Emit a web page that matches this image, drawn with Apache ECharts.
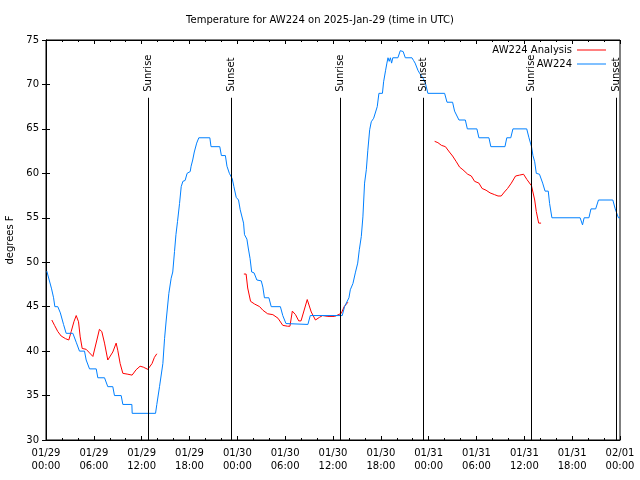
<!DOCTYPE html>
<html>
<head>
<meta charset="utf-8">
<script src="https://cdn.jsdelivr.net/npm/echarts@6/dist/echarts.min.js"></script>
<style>html,body{margin:0;padding:0;background:#fff}#c{width:640px;height:480px}</style>
</head>
<body>
<div id="c"></div>
<script>
// hours since 2025-01-29 00:00 UTC, temperature in degrees F
const analysisData = [
  [0.73,43.5],[1.07,42.9],[1.48,42.2],[1.9,41.7],[2.45,41.4],[2.86,41.25],[3.16,42.2],[3.5,43.3],[3.79,44],[4.08,43.3],
  [4.29,41.6],[4.54,40.3],[5.04,40.2],[5.46,39.8],[5.88,39.4],[6.0,39.6],[6.38,41.25],[6.7,42.45],[7.0,42.2],[7.34,40.9],
  [7.75,39],[8.0,39],[8.38,39.9],[8.8,40.9],[9.0,40.1],[9.3,38.6],[9.64,37.5],[10.27,37.4],[10.8,37.3],[11.3,37.9],
  [11.8,38.3],[12.2,38.2],[12.77,37.95],[13.3,38.6],[13.6,39.3],[13.9,39.7],
  [19,'-'],
  [24.82,48.67],[25.1,48.67],[25.3,47.1],[25.66,45.6],[26.16,45.3],[26.8,45],[27.2,44.6],[27.8,44.2],[28.46,44.1],
  [29.1,43.7],[29.7,42.9],[30.3,42.8],[30.6,42.8],[30.9,44.5],[31.3,44.1],[31.7,43.4],[31.99,43.4],[32.77,45.8],
  [33.27,44.4],[33.8,43.5],[34.3,43.8],[34.7,44],[35.36,43.9],[36.2,43.9],[37.04,44.25],[37.4,45],[37.87,45.5],
  [43,'-'],
  [48.75,63.6],[49.16,63.45],[49.6,63.15],[50.1,63],[50.6,62.4],[51.0,61.95],[51.47,61.3],[51.88,60.7],[52.3,60.4],
  [52.9,59.9],[53.35,59.7],[53.76,59.1],[54.3,58.9],[54.7,58.3],[55.2,58.1],[55.7,57.8],[56.27,57.6],[56.7,57.45],
  [57.1,57.45],[57.5,57.9],[57.9,58.3],[58.37,58.9],[58.9,59.7],[59.4,59.8],[59.9,59.9],[60.33,59.3],[60.9,58.6],
  [61.1,58.4],[61.3,57],[61.5,55.7],[61.8,54.4],[62.1,54.4]
];
const stationData = [
  [0.1,49],[0.4,48],[0.7,47],[0.95,46],[1.11,45],[1.48,45],[1.8,44.3],[2.2,43],[2.53,42],[3.37,42],[3.79,41],[4.2,40],
  [4.83,40],[5.04,39],[5.46,38],[6.3,38],[6.5,37],[7.34,37],[7.75,36],[8.38,36],[8.59,35],[9.43,35],[9.64,34],[10.77,34],
  [10.81,33],[13.74,33],[13.9,34],[14.24,36],[14.66,38.6],[14.87,41.4],[15.08,43.5],[15.41,46.5],[15.7,48.2],[15.9,48.9],
  [16.12,51.2],[16.3,53.1],[16.5,54.6],[16.75,56.6],[16.96,58.5],[17.17,59.1],[17.45,59.2],[17.7,60],[18.09,60.2],
  [18.2,60.8],[18.4,61.5],[18.6,62.4],[18.9,63.4],[19.17,64],[20.55,64],[20.7,63],[21.8,63],[22.0,62],[22.5,62],
  [22.7,60.8],[23.0,60],[23.36,59.4],[23.57,58.5],[23.86,57.3],[24.15,57],[24.36,55.9],[24.78,54.4],[24.9,53.1],
  [25.2,52.6],[25.37,51.6],[25.6,50.4],[25.8,48.9],[26.1,48.8],[26.45,48],[27.0,47.9],[27.2,47.2],[27.4,46],[27.96,46],
  [28.25,45],[29.4,45],[29.7,44],[30.1,43.1],[30.3,43],[32.85,43],[33.15,44],[37.16,44],[37.45,45],[38.0,46],
  [38.17,46.9],[38.5,47.6],[38.8,48.8],[39.1,49.9],[39.3,51.4],[39.55,52.9],[39.75,55.1],[39.96,58.9],[40.18,60.4],
  [40.37,62.6],[40.6,64.9],[40.8,65.8],[41.1,66.2],[41.3,66.3],[41.55,67.5],[41.76,69],[42.2,69],[42.35,70.3],
  [42.6,71.6],[42.76,72.4],[42.9,73],[43.05,72.6],[43.2,73],[43.35,72.4],[43.5,73],[44.14,73],[44.44,73.8],[44.6,74],
  [44.8,73.7],[45.07,73],[45.9,73],[46.1,72.7],[46.3,72.4],[46.65,71.6],[46.9,71.2],[47.3,70.7],[47.6,70.1],[47.9,69],
  [50.0,69],[50.3,68],[51.0,68],[51.25,67],[51.5,67],[51.8,66],[52.6,66],[52.85,65],[54.05,65],[54.3,64],[55.56,64],
  [55.8,63],[57.57,63],[57.8,64],[58.3,64],[58.57,65],[60.3,65],[60.58,64],[60.9,63],[61.08,62],[61.3,61.3],[61.5,60],
  [61.9,59.9],[62.3,58.9],[62.6,58],[63.0,58],[63.17,56.6],[63.46,55],[67.0,55],[67.3,54.2],[67.5,55],[68.1,55],
  [68.36,56],[68.95,56],[69.3,57],[71.1,57],[71.4,56],[71.8,55],[72,55]
];
const sunEventHours = [12.75, 23.2, 36.9, 47.3, 60.8, 71.5];
const sunEventLabels = ['Sunrise', 'Sunset', 'Sunrise', 'Sunset', 'Sunrise', 'Sunset'];
const xTickLabels = ['01/29\n00:00','01/29\n06:00','01/29\n12:00','01/29\n18:00','01/30\n00:00','01/30\n06:00',
  '01/30\n12:00','01/30\n18:00','01/31\n00:00','01/31\n06:00','01/31\n12:00','01/31\n18:00','02/01\n00:00'];
const seriesNames = ['AW224 Analysis', 'AW224'];
const titleText = 'Temperature for AW224 on 2025-Jan-29 (time in UTC)';
const yName = 'degrees F';

const FONT = 'DejaVu Sans';
const chart = echarts.init(document.getElementById('c'), null, {renderer: 'canvas'});
const xBase = {
  type: 'value', min: 0, max: 72, interval: 6,
  axisLine: {show: true, lineStyle: {color: '#000', width: 1}},
  axisTick: {show: true, inside: true, length: 4, lineStyle: {color: '#000'}},
  minorTick: {show: true, splitNumber: 3, length: 2, lineStyle: {color: '#000'}},
  splitLine: {show: false}
};
const yBase = {
  type: 'value', min: 30, max: 75, interval: 5,
  axisLine: {show: true, lineStyle: {color: '#000', width: 1}},
  axisTick: {show: true, inside: true, length: 4, lineStyle: {color: '#000'}},
  splitLine: {show: false}
};
chart.setOption({
  animation: false,
  backgroundColor: '#fff',
  title: {text: titleText, left: 'center', top: 10,
    textStyle: {fontFamily: FONT, fontSize: 10, fontWeight: 'normal', color: '#000'}},
  legend: [
    {data: [seriesNames[0]], right: 29, top: 40, align: 'right', icon: 'rect', itemWidth: 29, itemHeight: 1,
      textStyle: {fontFamily: FONT, fontSize: 10, color: '#000'}},
    {data: [seriesNames[1]], right: 29, top: 54, align: 'right', icon: 'rect', itemWidth: 29, itemHeight: 1,
      textStyle: {fontFamily: FONT, fontSize: 10, color: '#000'}}
  ],
  grid: {left: 46, right: 20, top: 40, bottom: 40, containLabel: false, outerBoundsMode: 'none',
    show: true, borderColor: '#000', borderWidth: 1, backgroundColor: 'transparent'},
  xAxis: [
    Object.assign({}, xBase, {position: 'bottom',
      axisLabel: {show: true, margin: 7, fontFamily: FONT, fontSize: 10, color: '#000', lineHeight: 13,
        formatter: v => xTickLabels[Math.round(v / 6)]}}),
    Object.assign({}, xBase, {position: 'top', axisLabel: {show: false}})
  ],
  yAxis: [
    Object.assign({}, yBase, {position: 'left', name: yName, nameLocation: 'middle', nameGap: 30, nameRotate: 90,
      nameTextStyle: {fontFamily: FONT, fontSize: 10, color: '#000'},
      axisLabel: {show: true, margin: 7, fontFamily: FONT, fontSize: 10, color: '#000'}}),
    Object.assign({}, yBase, {position: 'right', axisLabel: {show: false}})
  ],
  series: [
    {name: seriesNames[0], type: 'line', data: analysisData, showSymbol: false, symbol: 'none',
      lineStyle: {color: '#ff0000', width: 1}, itemStyle: {color: '#ff0000'}, connectNulls: false, z: 2},
    {name: seriesNames[1], type: 'line', data: stationData, showSymbol: false, symbol: 'none',
      lineStyle: {color: '#0080ff', width: 1}, itemStyle: {color: '#0080ff'}, z: 3},
    {name: 'sun', type: 'custom', data: sunEventHours.map(h => [h]), z: 4, silent: true,
      renderItem: (params, api) => {
        const h = api.value(0);
        const p0 = api.coord([h, 30]);
        const p1 = api.coord([h, 68.5]);
        return {type: 'group', children: [
          {type: 'line', shape: {x1: Math.round(p0[0]) + 0.5, y1: p0[1], x2: Math.round(p1[0]) + 0.5, y2: p1[1]},
            style: {stroke: '#000', lineWidth: 1}},
          {type: 'text', x: Math.round(p1[0]) + 0.5, y: p1[1] - 6, rotation: Math.PI / 2,
            style: {text: sunEventLabels[params.dataIndex], fill: '#000', fontFamily: FONT, fontSize: 10,
              align: 'left', verticalAlign: 'middle'}}
        ]};
      }}
  ]
});
</script>
</body>
</html>
